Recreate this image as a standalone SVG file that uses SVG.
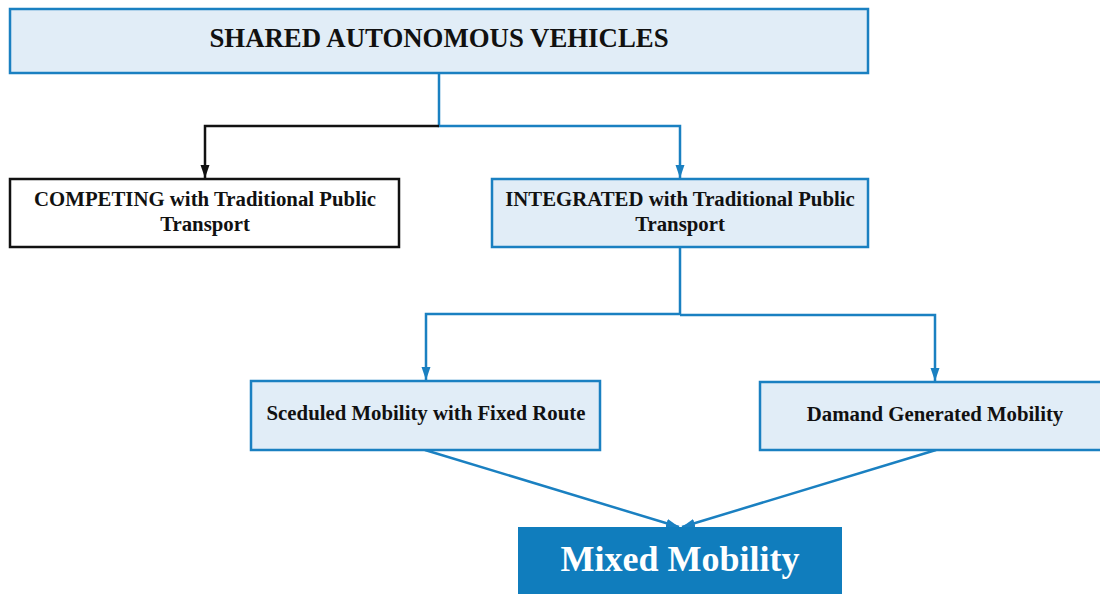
<svg xmlns="http://www.w3.org/2000/svg" width="1100" height="594" viewBox="0 0 1100 594">
  <style>
    .box { fill: #e1edf7; stroke: #1a80c1; stroke-width: 2.5; }
    .plain { fill: #ffffff; stroke: #111111; stroke-width: 2.5; }
    .dark { fill: #107dbd; stroke: none; }
    .lbl { font-family: "Liberation Serif", "Times New Roman", serif; font-weight: bold; fill: #111111; text-anchor: middle; }
    .sm { font-size: 20.8px; }
    .lnk { fill: none; stroke: #1a80c1; stroke-width: 2.5; }
    .lnk-k { fill: none; stroke: #111111; stroke-width: 2.5; }
  </style>
  <defs>
    <marker id="arr-b" markerUnits="userSpaceOnUse" markerWidth="13" markerHeight="13" viewBox="0 0 13 13" refX="13" refY="6.5" orient="auto">
      <path d="M0,2 L13,6.5 L0,11 Z" fill="#1a80c1"/>
    </marker>
    <marker id="arr-k" markerUnits="userSpaceOnUse" markerWidth="13" markerHeight="13" viewBox="0 0 13 13" refX="13" refY="6.5" orient="auto">
      <path d="M0,2 L13,6.5 L0,11 Z" fill="#111111"/>
    </marker>
  </defs>

  <g id="connectors">
    <path class="lnk" d="M439,73 V126 H680 V178" marker-end="url(#arr-b)"/>
    <path class="lnk-k" d="M439,126 H205 V178" marker-end="url(#arr-k)"/>
    <path class="lnk" d="M680,247 V314 H426 V380" marker-end="url(#arr-b)"/>
    <path class="lnk" d="M680,315 H935 V381" marker-end="url(#arr-b)"/>
    <path class="lnk" d="M425,450 L679,527" marker-end="url(#arr-b)"/>
    <path class="lnk" d="M936,450 L682,527" marker-end="url(#arr-b)"/>
  </g>

  <g id="node-sav">
    <rect class="box" x="10" y="9" width="858" height="64"/>
    <text class="lbl" x="439" y="47" font-size="26.8">SHARED AUTONOMOUS VEHICLES</text>
  </g>

  <g id="node-competing">
    <rect class="plain" x="10" y="179" width="389" height="68"/>
    <text class="lbl sm" x="205" y="206">COMPETING with Traditional Public</text>
    <text class="lbl sm" x="205" y="231">Transport</text>
  </g>

  <g id="node-integrated">
    <rect class="box" x="492" y="179" width="376" height="68"/>
    <text class="lbl sm" x="680" y="206">INTEGRATED with Traditional Public</text>
    <text class="lbl sm" x="680" y="231">Transport</text>
  </g>

  <g id="node-scheduled">
    <rect class="box" x="251" y="381" width="349" height="69"/>
    <text class="lbl sm" x="426" y="420">Sceduled Mobility with Fixed Route</text>
  </g>

  <g id="node-demand">
    <rect class="box" x="760" y="382" width="345" height="68"/>
    <text class="lbl sm" x="935" y="421">Damand Generated Mobility</text>
  </g>

  <g id="node-mixed">
    <rect class="dark" x="518" y="527" width="324" height="70"/>
    <text class="lbl" x="680" y="571" font-size="36" style="fill:#ffffff">Mixed Mobility</text>
  </g>
</svg>
